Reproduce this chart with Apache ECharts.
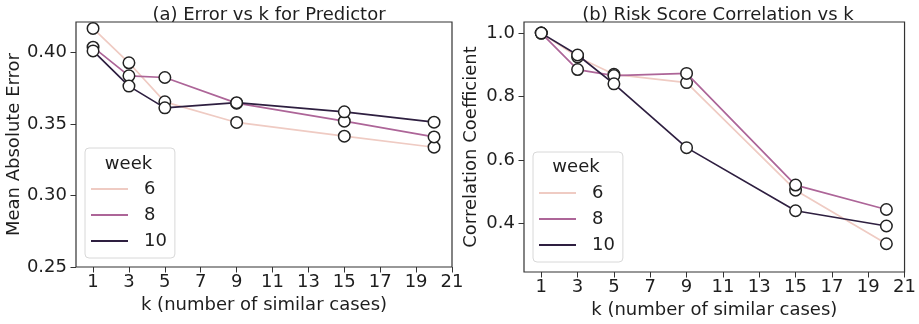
<!DOCTYPE html>
<html>
<head>
<meta charset="utf-8">
<script src="https://cdn.jsdelivr.net/npm/echarts@6/dist/echarts.min.js"></script>
<style>
  html, body { margin: 0; padding: 0; background: #fff; }
  #chart { width: 919px; height: 324px; }
</style>
</head>
<body>
<div id="chart"></div>
<script>
// ---- data ----
var kValues = [1, 3, 5, 9, 15, 20];
var weekNames = ['6', '8', '10'];
var maeW6  = [0.4167, 0.3927, 0.3654, 0.3510, 0.3414, 0.3337];
var maeW8  = [0.4036, 0.3836, 0.3824, 0.3645, 0.3519, 0.3409];
var maeW10 = [0.4010, 0.3764, 0.3612, 0.3648, 0.3584, 0.3512];
var corrW6  = [1.000, 0.925, 0.870, 0.844, 0.505, 0.336];
var corrW8  = [1.000, 0.885, 0.866, 0.873, 0.521, 0.444];
var corrW10 = [1.000, 0.931, 0.840, 0.639, 0.440, 0.392];
var xTicks = [1, 3, 5, 7, 9, 11, 13, 15, 17, 19, 21];
var maeTicks = [0.25, 0.30, 0.35, 0.40];
var corrTicks = [0.4, 0.6, 0.8, 1.0];

// ---- styling ----
var FONT = 'DejaVu Sans';
var FS = 18;
var TXT = '#1e1e1e';
var weekColors = ['#efcbc3', '#ad6598', '#2e1f40'];

function pairs(vals) {
  return kValues.map(function (k, i) { return [k, vals[i]]; });
}

function xAxisFor(gridIndex, gap) {
  return {
    type: 'value', gridIndex: gridIndex, min: 0.05, max: 21,
    name: 'k (number of similar cases)', nameLocation: 'middle', nameGap: gap,
    nameTextStyle: { fontFamily: FONT, fontSize: FS, color: TXT },
    axisLine: { show: false },
    axisTick: { show: true, length: 5.5, customValues: xTicks, lineStyle: { color: '#333', width: 1 } },
    axisLabel: { customValues: xTicks, margin: 6, fontFamily: FONT, fontSize: FS, color: TXT },
    splitLine: { show: false }
  };
}

function yAxisFor(gridIndex, min, max, ticks, decimals, name, gap) {
  return {
    type: 'value', gridIndex: gridIndex, min: min, max: max,
    name: name, nameLocation: 'middle', nameGap: gap,
    nameTextStyle: { fontFamily: FONT, fontSize: FS, color: TXT },
    axisLine: { show: false },
    axisTick: { show: true, length: 5.5, customValues: ticks, lineStyle: { color: '#333', width: 1 } },
    axisLabel: {
      customValues: ticks, margin: 9, fontFamily: FONT, fontSize: FS, color: TXT,
      formatter: function (v) { return v.toFixed(decimals); }
    },
    splitLine: { show: false }
  };
}

function lineSeries(name, vals, colorIdx, axisIdx) {
  return {
    type: 'line', name: name, xAxisIndex: axisIdx, yAxisIndex: axisIdx,
    data: pairs(vals),
    symbol: 'circle', symbolSize: 11.5, showSymbol: true,
    lineStyle: { color: weekColors[colorIdx], width: 1.7 },
    itemStyle: { color: '#fff', borderColor: '#222', borderWidth: 1.5 },
    emphasis: { disabled: true },
    z: 2 + colorIdx
  };
}

function legendFor(left, top) {
  return {
    orient: 'vertical', left: left, top: top,
    padding: [31, 8, 7, 6],
    itemWidth: 37, itemHeight: 2, itemGap: 6,
    icon: 'rect',
    backgroundColor: '#fff', borderColor: '#d8d8d8', borderWidth: 1, borderRadius: 4,
    textStyle: { fontFamily: FONT, fontSize: FS, color: TXT, lineHeight: 20, padding: [0, 0, 0, 11] },
    selectedMode: false,
    data: weekNames.map(function (n, i) {
      return { name: n, itemStyle: { color: weekColors[i], borderWidth: 0 } };
    })
  };
}

function weekTitle(x, y) {
  return { type: 'text', x: x, y: y, z: 100,
    style: { text: 'week', font: FS + 'px "' + FONT + '"', fill: TXT, align: 'center', verticalAlign: 'middle' } };
}

var option = {
  animation: false,
  backgroundColor: '#fff',
  title: [
    { text: '(a) Error vs k for Predictor', left: 264, top: 1, textAlign: 'center',
      textStyle: { fontFamily: FONT, fontSize: FS, fontWeight: 'normal', color: TXT } },
    { text: '(b) Risk Score Correlation vs k', left: 713, top: 1, textAlign: 'center',
      textStyle: { fontFamily: FONT, fontSize: FS, fontWeight: 'normal', color: TXT } }
  ],
  grid: [
    { left: 76, top: 22, width: 376, height: 245, show: true, borderColor: '#333', borderWidth: 1.2, backgroundColor: 'transparent' },
    { left: 524, top: 22, width: 381, height: 250, show: true, borderColor: '#333', borderWidth: 1.2, backgroundColor: 'transparent' }
  ],
  xAxis: [xAxisFor(0, 27), xAxisFor(1, 26)],
  yAxis: [
    yAxisFor(0, 0.25, 0.4212, maeTicks, 2, 'Mean Absolute Error', 53),
    yAxisFor(1, 0.247, 1.035, corrTicks, 1, 'Correlation Coefficient', 44)
  ],
  legend: [legendFor(85, 148), legendFor(533, 152)],
  graphic: [weekTitle(128.5, 164), weekTitle(576, 167)],
  series: [
    lineSeries('6', maeW6, 0, 0),
    lineSeries('8', maeW8, 1, 0),
    lineSeries('10', maeW10, 2, 0),
    lineSeries('6', corrW6, 0, 1),
    lineSeries('8', corrW8, 1, 1),
    lineSeries('10', corrW10, 2, 1)
  ]
};

var chart = echarts.init(document.getElementById('chart'), null, { renderer: 'canvas' });
chart.setOption(option);
</script>
</body>
</html>
